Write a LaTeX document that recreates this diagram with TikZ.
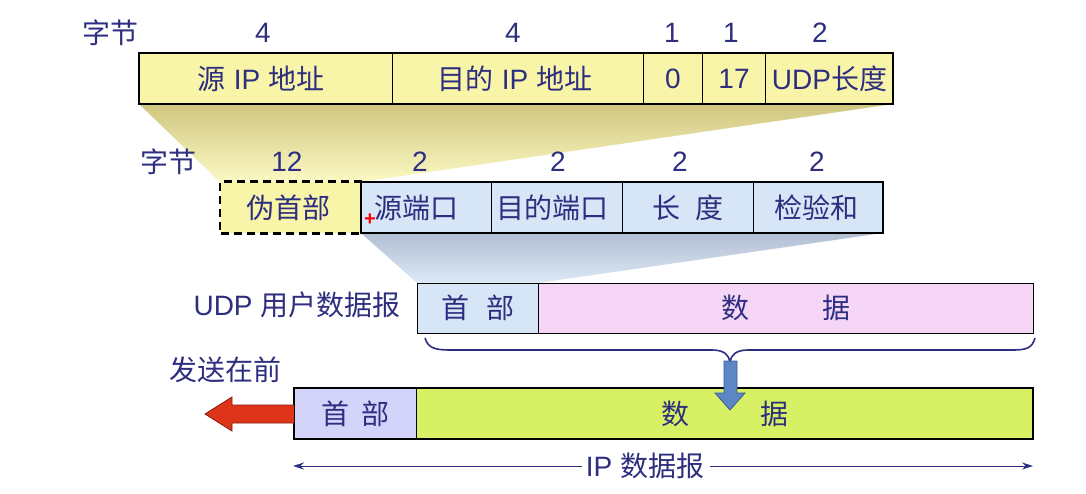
\documentclass[tikz,border=0pt]{standalone}
\usepackage{fontspec}
\setmainfont{Liberation Sans}
\newfontfamily\cjk{Noto Sans CJK SC}
\usetikzlibrary{arrows.meta}
\definecolor{txt}{RGB}{46,46,128}
\definecolor{yfill}{RGB}{249,245,168}
\definecolor{bfill}{RGB}{214,230,246}
\definecolor{pfill}{RGB}{246,214,246}
\definecolor{lfill}{RGB}{212,212,250}
\definecolor{gfill}{RGB}{216,240,100}
\definecolor{fy1}{RGB}{208,198,128}
\definecolor{fy2}{RGB}{252,249,196}
\definecolor{fb1}{RGB}{178,190,210}
\definecolor{fb2}{RGB}{220,233,246}
\definecolor{redA}{RGB}{222,52,26}
\definecolor{redB}{RGB}{140,26,12}
\definecolor{bluA}{RGB}{92,134,196}
\definecolor{bluB}{RGB}{60,92,150}
\begin{document}
\begin{tikzpicture}[x=1pt,y=-1pt,
  cell/.style={draw=black, line width=1pt, inner sep=0pt, anchor=west,
    text=txt, font=\fontsize{28}{32}\selectfont},
  lab/.style={text=txt, inner sep=0pt, font=\fontsize{28}{32}\selectfont},
  outer/.style={draw=black, line width=1.8pt}]
\useasboundingbox (0,0) rectangle (1086,493);
\fill[white] (0,0) rectangle (1086,493);

% funnels
\shade[top color=fy1, bottom color=fy2] (139,104) -- (893,104) -- (361,182) -- (220,182) -- cycle;
\shade[top color=fb1, bottom color=fb2] (361,233) -- (883,233) -- (538,283) -- (417,283) -- cycle;

% top row (IP pseudo header)
\begin{scope}[every node/.append style={cell, fill=yfill, minimum height=51pt}]
\node[minimum width=253pt] (sip) at (139,78.5) {{\cjk 源} IP {\cjk 地址}\hspace*{10pt}};
\node[minimum width=251pt] (dip) at (392,78.5) {{\cjk 目的} IP {\cjk 地址}\hspace*{6pt}};
\node[minimum width=59pt] (zero) at (643,78.5) {0};
\node[minimum width=63pt] (proto) at (702,78.5) {17};
\node[minimum width=128pt] (ulen) at (765,78.5) {UDP{\cjk 长度}};
\end{scope}
\draw[outer] (139,53) rectangle (893,104);

\node[lab] (b1) at (110,33) {\cjk 字节};
\node[lab] (n1) at (263,33) {4};
\node[lab] (n2) at (513,33) {4};
\node[lab] (n3) at (672,33) {1};
\node[lab] (n4) at (731,33) {1};
\node[lab] (n5) at (820,33) {2};

% second row (UDP header)
\node[cell, fill=yfill, draw=none, minimum height=51pt, minimum width=141pt] (pseudo) at (220,207.5) {\cjk 伪首部\hspace*{6pt}};
\draw[line width=2.2pt, dash pattern=on 8pt off 5pt] (pseudo.north east) -- (pseudo.north west) -- (pseudo.south west) -- (pseudo.south east);
\begin{scope}[every node/.append style={cell, fill=bfill, minimum height=51pt}]
\node[minimum width=130pt] (sport) at (361,207.5) {\cjk 源端口\hspace*{20pt}};
\node[minimum width=131pt] (dport) at (491,207.5) {\cjk 目的端口\hspace*{10pt}};
\node[minimum width=131pt] (len) at (622,207.5) {\cjk 长\hspace{16pt}度};
\node[minimum width=130pt] (chk) at (753,207.5) {\cjk 检验和\hspace*{4pt}};
\end{scope}
\draw[outer, line width=1.5pt] (361,182) rectangle (883,233);
\node[text=red, inner sep=0pt, font=\bfseries\fontsize{20}{20}\selectfont] (plus) at (370,220) {+};

\node[lab] (b2) at (168,162) {\cjk 字节};
\node[lab] (m1) at (287,162) {12};
\node[lab] (m2) at (420,162) {2};
\node[lab] (m3) at (558,162) {2};
\node[lab] (m4) at (680,162) {2};
\node[lab] (m5) at (817,162) {2};

% UDP datagram
\node[cell, fill=bfill, minimum height=50pt, minimum width=121pt] (uh) at (417,308) {\cjk 首\hspace{17pt}部};
\node[cell, fill=pfill, minimum height=50pt, minimum width=495pt] (ud) at (538,308) {\cjk 数\hspace{74pt}据};
\node[lab] (udpl) at (297,305) {UDP {\cjk 用户数据报}};

% brace
\draw[txt, line width=1.6pt] (425,338) .. controls (428,348) and (435,350) .. (450,350)
  -- (712,350) .. controls (724,350) and (729,355) .. (730,362)
  .. controls (731,355) and (736,350) .. (748,350)
  -- (1012,350) .. controls (1027,350) and (1032,348) .. (1035,338);

% IP datagram
\node[cell, fill=lfill, minimum height=51pt, minimum width=122pt] (ih) at (294,413.5) {\cjk 首\hspace{13pt}部};
\node[cell, fill=gfill, minimum height=51pt, minimum width=617pt] (id) at (416,413.5) {\cjk 数\hspace{72pt}据};
\draw[outer, line width=1.5pt] (294,388) rectangle (1033,439);

% blue down arrow
\draw[fill=bluA, draw=bluB, line width=0.8pt] (724,361) -- (737,361) -- (737,393) -- (745,393)
  -- (730,410) -- (715,393) -- (724,393) -- cycle;

% red left arrow
\coordinate (rtip) at (205,414);
\draw[fill=redA, draw=redB, line width=0.8pt] (294,405) -- (232,405) -- (232,397) -- (rtip)
  -- (232,431) -- (232,423) -- (294,423);
\node[lab] (send) at (225,370) {\cjk 发送在前};

% IP datagram length
\coordinate (ipl) at (293,466);
\coordinate (ipr) at (1033,466);
\node[lab] (iplab) at (645,466) {IP {\cjk 数据报}};
\draw[txt, line width=0.9pt, -{Stealth[length=11pt,width=7pt]}] (iplab.west) ++(-4,0) -- (ipl);
\draw[txt, line width=0.9pt, -{Stealth[length=11pt,width=7pt]}] (iplab.east) ++(6,0) -- (ipr);
\end{tikzpicture}
\end{document}
